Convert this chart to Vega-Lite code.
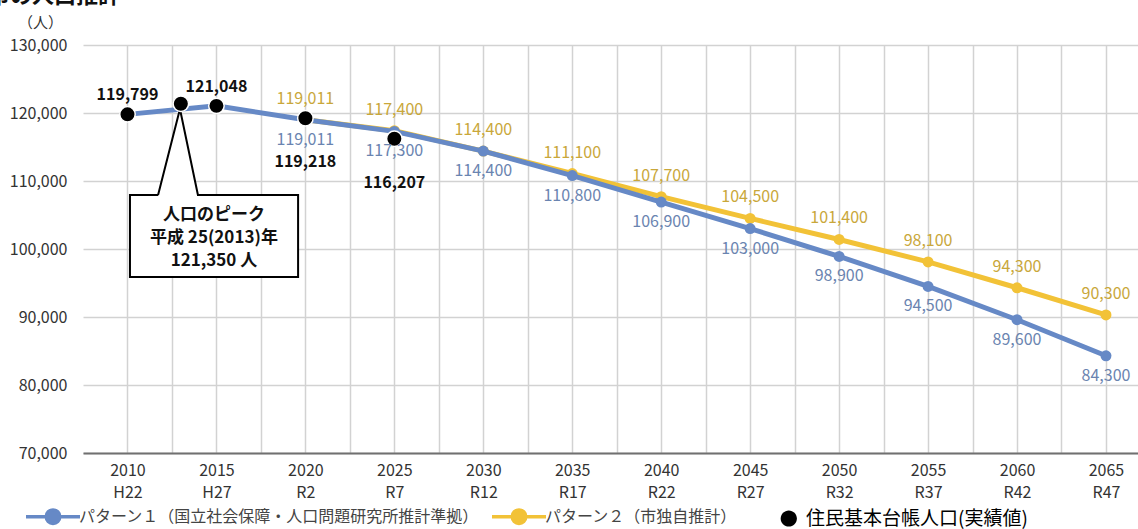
{
  "$schema": "https://vega.github.io/schema/vega-lite/v6.json",
  "width": 1055,
  "height": 408,
  "autosize": {"type": "none"},
  "padding": {"left": 83, "top": 45, "right": 0, "bottom": 76},
  "background": "white",
  "title": {"text": "本市の人口推計", "anchor": "start", "frame": "group", "fontSize": 22, "fontWeight": "bold", "color": "#111", "dx": -117, "dy": 10, "offset": 0, "baseline": "alphabetic"},
  "datasets": {
    "pop": [
      {"series": "パターン１（国立社会保障・人口問題研究所推計準拠）", "year": 2010, "value": 119799},
      {"series": "パターン１（国立社会保障・人口問題研究所推計準拠）", "year": 2015, "value": 121048},
      {"series": "パターン１（国立社会保障・人口問題研究所推計準拠）", "year": 2020, "value": 119011},
      {"series": "パターン１（国立社会保障・人口問題研究所推計準拠）", "year": 2025, "value": 117300},
      {"series": "パターン１（国立社会保障・人口問題研究所推計準拠）", "year": 2030, "value": 114400},
      {"series": "パターン１（国立社会保障・人口問題研究所推計準拠）", "year": 2035, "value": 110800},
      {"series": "パターン１（国立社会保障・人口問題研究所推計準拠）", "year": 2040, "value": 106900},
      {"series": "パターン１（国立社会保障・人口問題研究所推計準拠）", "year": 2045, "value": 103000},
      {"series": "パターン１（国立社会保障・人口問題研究所推計準拠）", "year": 2050, "value": 98900},
      {"series": "パターン１（国立社会保障・人口問題研究所推計準拠）", "year": 2055, "value": 94500},
      {"series": "パターン１（国立社会保障・人口問題研究所推計準拠）", "year": 2060, "value": 89600},
      {"series": "パターン１（国立社会保障・人口問題研究所推計準拠）", "year": 2065, "value": 84300},
      {"series": "パターン２（市独自推計）", "year": 2020, "value": 119011},
      {"series": "パターン２（市独自推計）", "year": 2025, "value": 117400},
      {"series": "パターン２（市独自推計）", "year": 2030, "value": 114400},
      {"series": "パターン２（市独自推計）", "year": 2035, "value": 111100},
      {"series": "パターン２（市独自推計）", "year": 2040, "value": 107700},
      {"series": "パターン２（市独自推計）", "year": 2045, "value": 104500},
      {"series": "パターン２（市独自推計）", "year": 2050, "value": 101400},
      {"series": "パターン２（市独自推計）", "year": 2055, "value": 98100},
      {"series": "パターン２（市独自推計）", "year": 2060, "value": 94300},
      {"series": "パターン２（市独自推計）", "year": 2065, "value": 90300},
      {"series": "住民基本台帳人口(実績値)", "year": 2010, "value": 119799},
      {"series": "住民基本台帳人口(実績値)", "year": 2013, "value": 121350},
      {"series": "住民基本台帳人口(実績値)", "year": 2015, "value": 121048},
      {"series": "住民基本台帳人口(実績値)", "year": 2020, "value": 119218},
      {"series": "住民基本台帳人口(実績値)", "year": 2025, "value": 116207}
    ],
    "callout": [
      {"i": 0, "year": 2011.72, "value": 107941},
      {"i": 1, "year": 2010.14, "value": 107941},
      {"i": 2, "year": 2010.14, "value": 95882},
      {"i": 3, "year": 2019.59, "value": 95882},
      {"i": 4, "year": 2019.59, "value": 107941},
      {"i": 5, "year": 2013.96, "value": 107941},
      {"i": 6, "year": 2012.95, "value": 120588},
      {"i": 7, "year": 2011.72, "value": 107941}
    ],
    "note": [
      {"year": 2014.86, "value": 105000, "text": ["人口のピーク", "平成 25(2013)年", "121,350 人"]}
    ]
  },
  "encoding": {
    "x": {
      "field": "year", "type": "quantitative",
      "scale": {"domain": [2007.5, 2066.8], "nice": false, "zero": false},
      "axis": {
        "title": null,
        "values": [2010, 2012.5, 2015, 2017.5, 2020, 2022.5, 2025, 2027.5, 2030, 2032.5, 2035, 2037.5, 2040, 2042.5, 2045, 2047.5, 2050, 2052.5, 2055, 2057.5, 2060, 2062.5, 2065],
        "labelExpr": "datum.value % 5 === 0 ? ['' + datum.value, datum.value < 2019 ? 'H' + (datum.value - 1988) : 'R' + (datum.value - 2018)] : ''",
        "grid": true, "gridColor": "#d2d2d2", "gridWidth": 1.5,
        "domain": true, "domainColor": "#707070", "domainWidth": 2,
        "ticks": false, "labelOverlap": false, "labelFlush": false,
        "labelFontSize": 16, "labelLineHeight": 22, "labelPadding": 9, "labelColor": "#333"
      }
    },
    "y": {
      "field": "value", "type": "quantitative",
      "scale": {"domain": [70000, 130000], "nice": false, "zero": false},
      "axis": {
        "title": "（人）", "titleAngle": 0, "titleX": -43, "titleY": -23, "titleAlign": "center", "titleBaseline": "middle",
        "titleFontSize": 15, "titleFontWeight": "normal", "titleColor": "#333",
        "values": [70000, 80000, 90000, 100000, 110000, 120000, 130000],
        "labelExpr": "format(datum.value, ',')",
        "grid": true, "gridColor": "#d2d2d2", "gridWidth": 1.5,
        "domain": false, "ticks": false,
        "labelFontSize": 16, "labelPadding": 16, "labelColor": "#333"
      }
    }
  },
  "layer": [
    {
      "data": {"name": "pop"},
      "transform": [{"filter": "datum.series === 'パターン２（市独自推計）'"}],
      "mark": {"type": "line", "strokeWidth": 5},
      "encoding": {
        "color": {
          "field": "series", "type": "nominal",
          "scale": {"domain": ["パターン１（国立社会保障・人口問題研究所推計準拠）", "パターン２（市独自推計）", "住民基本台帳人口(実績値)"], "range": ["#6689c6", "#f2c237", "#000000"]},
          "legend": {
            "title": null, "orient": "none", "legendX": -38, "legendY": 463.5, "direction": "horizontal", "columns": 3,
            "padding": 0, "symbolSize": 2025, "symbolType": "circle", "labelOffset": 18, "columnPadding": 5,
            "labelFontSize": 16, "labelColor": "#444", "labelLimit": 0, "labelFontWeight": "normal",
            "encode": {
              "symbols": {"update": {
                "shape": {"signal": "datum.value === '住民基本台帳人口(実績値)' ? 'M-1.62,0M0.75,0A0.36,0.36,0,1,1,0.03,0A0.36,0.36,0,1,1,0.75,0Z' : 'M-1.2,0L1.2,0M0.3,0A0.3,0.3,0,1,1,-0.3,0A0.3,0.3,0,1,1,0.3,0Z'"},
                "stroke": {"signal": "scale('color', datum.value)"},
                "fill": {"signal": "scale('color', datum.value)"},
                "strokeWidth": {"signal": "datum.value === '住民基本台帳人口(実績値)' ? 0 : 3.5"},
                "opacity": {"value": 1}
              }},
              "labels": {"update": {
                "fontSize": {"signal": "datum.value === '住民基本台帳人口(実績値)' ? 19 : 16"},
                "fontWeight": {"value": "normal"},
                "fill": {"signal": "datum.value === '住民基本台帳人口(実績値)' ? '#000' : '#444'"}
              }}
            }
          }
        }
      }
    },
    {
      "data": {"name": "pop"},
      "transform": [{"filter": "datum.series === 'パターン２（市独自推計）'"}],
      "mark": {"type": "circle", "size": 120, "opacity": 1},
      "encoding": {"color": {"field": "series", "type": "nominal"}}
    },
    {
      "data": {"name": "pop"},
      "transform": [{"filter": "datum.series === 'パターン１（国立社会保障・人口問題研究所推計準拠）'"}],
      "mark": {"type": "line", "strokeWidth": 5},
      "encoding": {"color": {"field": "series", "type": "nominal"}}
    },
    {
      "data": {"name": "pop"},
      "transform": [{"filter": "datum.series === 'パターン１（国立社会保障・人口問題研究所推計準拠）' && datum.year >= 2020"}],
      "mark": {"type": "circle", "size": 120, "opacity": 1},
      "encoding": {"color": {"field": "series", "type": "nominal"}}
    },
    {
      "data": {"name": "callout"},
      "mark": {"type": "line", "stroke": "#000", "strokeWidth": 2, "fill": "white", "strokeJoin": "miter"},
      "encoding": {"order": {"field": "i", "type": "quantitative"}}
    },
    {
      "data": {"name": "note"},
      "mark": {"type": "text", "fontSize": 17, "fontWeight": "bold", "lineHeight": 23, "color": "#111", "align": "center", "baseline": "middle"},
      "encoding": {"text": {"field": "text"}}
    },
    {
      "data": {"name": "pop"},
      "transform": [{"filter": "datum.series === '住民基本台帳人口(実績値)'"}],
      "mark": {"type": "circle", "size": 240, "opacity": 1, "stroke": "white", "strokeWidth": 1.5},
      "encoding": {"color": {"field": "series", "type": "nominal"}}
    },
    {
      "data": {"name": "pop"},
      "transform": [{"filter": "datum.series === 'パターン１（国立社会保障・人口問題研究所推計準拠）' && datum.year >= 2020"}],
      "mark": {"type": "text", "fontSize": 16, "color": "#6a84b0", "dy": 20, "baseline": "middle"},
      "encoding": {"text": {"field": "value", "type": "quantitative", "format": ","}}
    },
    {
      "data": {"name": "pop"},
      "transform": [{"filter": "datum.series === 'パターン２（市独自推計）'"}],
      "mark": {"type": "text", "fontSize": 16, "color": "#c9a73a", "dy": -21, "baseline": "middle"},
      "encoding": {"text": {"field": "value", "type": "quantitative", "format": ","}}
    },
    {
      "data": {"name": "pop"},
      "transform": [{"filter": "datum.series === '住民基本台帳人口(実績値)' && (datum.year === 2010 || datum.year === 2015)"}],
      "mark": {"type": "text", "fontSize": 16, "fontWeight": "bold", "color": "#111", "dy": -19, "baseline": "middle"},
      "encoding": {"text": {"field": "value", "type": "quantitative", "format": ","}}
    },
    {
      "data": {"name": "pop"},
      "transform": [{"filter": "datum.series === '住民基本台帳人口(実績値)' && datum.year >= 2020"}],
      "mark": {"type": "text", "fontSize": 16, "fontWeight": "bold", "color": "#111", "dy": 44, "baseline": "middle"},
      "encoding": {"text": {"field": "value", "type": "quantitative", "format": ","}}
    }
  ],
  "config": {
    "view": {"stroke": null},
    "font": "Noto Sans CJK JP"
  }
}
